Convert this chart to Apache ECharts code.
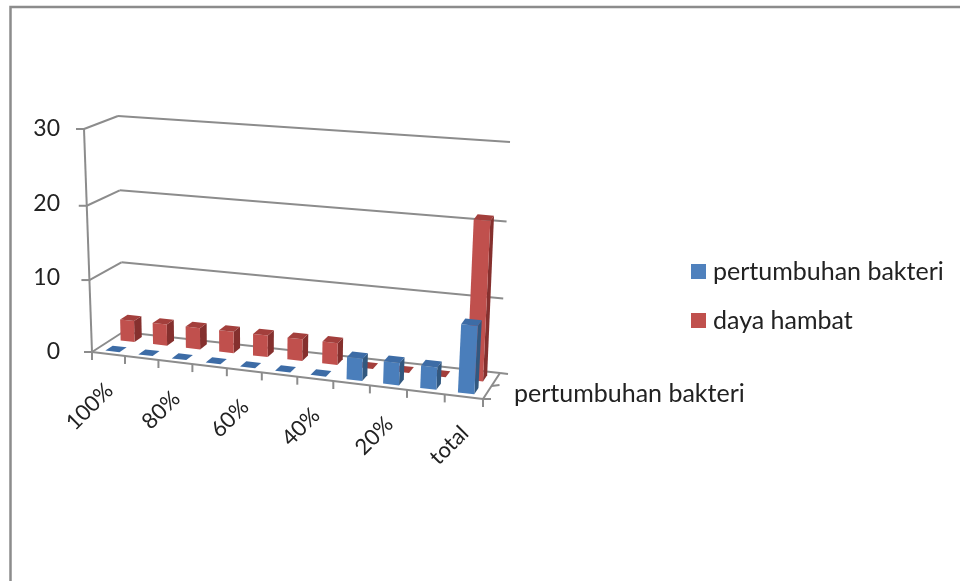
<!DOCTYPE html>
<html lang="en">
<head>
    <meta charset="utf-8">
    <style>
        html,
        body {
            margin: 0;
            width: 100%;
            height: 100%;
            background: #fff;
            overflow: hidden;
        }

        #chart {
            width: 960px;
            height: 581px;
        }
    </style>
</head>
<body>
<div id="chart"></div>
<script src="https://cdn.jsdelivr.net/npm/echarts@6/dist/echarts.min.js"></script>
<script>
    var categories = ['100%', '90%', '80%', '70%', '60%', '50%', '40%', '30%', '20%', '10%', 'total'];
    var pertumbuhanBakteri = [0, 0, 0, 0, 0, 0, 0, 3, 3, 3, 9];
    var dayaHambat = [3, 3, 3, 3, 3, 3, 3, 0, 0, 0, 21];
    var yTicks = [0, 10, 20, 30];

    var FONT = 'Lato';
    var LINE = '#8c8c8c';

    // corners of the 3d box as seen on screen: [bottom, top] for each vertical edge
    var frontLeft = [[92, 352], [84, 129]];
    var frontRight = [[483, 399], [496, 162]];
    var backLeft = [[123, 332], [118, 116]];
    var backRight = [[500, 373], [510, 142]];
    var PERSPECTIVE_X = 1.0855;
    var PERSPECTIVE_Y = 1.05;

    function mix(a, b, t) {
        return [a[0] + (b[0] - a[0]) * t, a[1] + (b[1] - a[1]) * t];
    }

    // u along the categories, v up the value axis, z into the depth, all 0..1
    function project(u, v, z) {
        var t = u / (u + PERSPECTIVE_X * (1 - u));
        var h = v / (v + PERSPECTIVE_Y * (1 - v));
        var bottom = mix(mix(frontLeft[0], frontRight[0], t), mix(backLeft[0], backRight[0], t), z);
        var top = mix(mix(frontLeft[1], frontRight[1], t), mix(backLeft[1], backRight[1], t), z);
        return mix(bottom, top, h);
    }

    function line(a, b) {
        return {
            type: 'polyline',
            shape: {points: [a, b]},
            style: {stroke: LINE, lineWidth: 2, fill: null}
        };
    }

    function face(points, color) {
        return {type: 'polygon', shape: {points: points}, style: {fill: color}};
    }

    // value axis levels: back wall, side wall and tick
    function renderWall(params, api) {
        var cs = params.coordSys;
        var v = (cs.y + cs.height - api.coord([0, api.value(0)])[1]) / cs.height;
        var front = project(0, v, 0);
        var kids = [
            line(project(1, v, 1), project(0, v, 1)),
            line(project(0, v, 1), front),
            line(front, [front[0] - 8, front[1]])
        ];
        return {type: 'group', children: kids};
    }

    // axes on the floor, one tick per category boundary
    function renderTick(params, api) {
        var cs = params.coordSys;
        var u = (api.coord([api.value(0), 0])[0] - api.size([1, 0])[0] / 2 - cs.x) / cs.width;
        var p = project(u, 0, 0);
        var kids = [line(p, [p[0], p[1] + 8])];
        if (params.dataIndex === categories.length - 1) {
            var end = project(1, 0, 0);
            var mid = project(1, 0, 0.5);
            var back = project(1, 0, 1);
            kids.push(line(project(0, 0, 0), end));
            kids.push(line([end[0], end[1] + 8], end));
            kids.push(line(end, back));
            kids.push(line(end, [end[0] + 8, end[1]]));
            kids.push(line(mid, [mid[0] + 8, mid[1] - 1]));
            kids.push(line(back, [back[0] + 8, back[1] + 1]));
            kids.push(line(project(0, 0, 0), project(0, 1, 0)));
            kids.push({
                type: 'text',
                style: {
                    x: end[0] + 31, y: end[1] - 5,
                    text: 'pertumbuhan bakteri',
                    font: '25px ' + FONT, fill: '#222',
                    align: 'left', verticalAlign: 'middle'
                }
            });
        }
        return {type: 'group', children: kids};
    }

    function renderLabel(params, api) {
        var i = api.value(0);
        if (i % 2) {
            return null;
        }
        var cs = params.coordSys;
        var u = (api.coord([i, 0])[0] - cs.x) / cs.width;
        var p = project(u, 0, 0);
        return {
            type: 'text',
            x: p[0] + 1,
            y: p[1] + 33,
            rotation: Math.PI / 4,
            style: {
                text: categories[i],
                font: '22px ' + FONT, fill: '#222',
                align: 'right', verticalAlign: 'middle'
            }
        };
    }

    function barRenderer(z0, z1, front, side, top) {
        return function (params, api) {
            var cs = params.coordSys;
            var c = api.coord([api.value(0), api.value(1)]);
            var w = api.size([1, 0])[0] * 0.215;
            var u0 = (c[0] - w - cs.x) / cs.width;
            var u1 = (c[0] + w - cs.x) / cs.width;
            var v = (cs.y + cs.height - c[1]) / cs.height;
            return {
                type: 'group',
                children: [
                    face([project(u1, 0, z0), project(u1, 0, z1), project(u1, v, z1), project(u1, v, z0)], side),
                    face([project(u0, 0, z0), project(u1, 0, z0), project(u1, v, z0), project(u0, v, z0)], front),
                    face([project(u0, v, z0), project(u1, v, z0), project(u1, v, z1), project(u0, v, z1)], top)
                ]
            };
        };
    }

    function pairs(values) {
        return values.map(function (value, i) {
            return [i, value];
        });
    }

    var chart = echarts.init(document.getElementById('chart'));
    chart.setOption({
        animation: false,
        backgroundColor: '#fff',
        graphic: [{
            type: 'polyline',
            shape: {points: [[10.5, 581], [10.5, 7], [960, 7]]},
            style: {stroke: '#8c8c8c', lineWidth: 2.5, fill: null}
        }],
        legend: {
            orient: 'vertical',
            left: 686,
            top: 254,
            itemWidth: 15,
            itemHeight: 15,
            itemGap: 24,
            icon: 'rect',
            data: ['pertumbuhan bakteri', 'daya hambat'],
            textStyle: {fontFamily: FONT, fontSize: 25, color: '#222', padding: [0, 0, 0, 2]}
        },
        grid: {left: 84, top: 129, width: 399, height: 223},
        xAxis: {
            type: 'category',
            data: categories,
            axisLine: {show: false},
            axisTick: {show: false},
            axisLabel: {show: false}
        },
        yAxis: {
            type: 'value',
            min: 0,
            max: 30,
            interval: 10,
            splitLine: {show: false},
            axisLine: {show: false},
            axisTick: {show: false},
            axisLabel: {margin: 24, fontFamily: FONT, fontSize: 23, color: '#222', padding: [4, 0, 0, 0]}
        },
        series: [
            {
                type: 'custom',
                name: 'walls',
                silent: true,
                clip: false,
                renderItem: renderWall,
                encode: {y: 0},
                data: yTicks
            },
            {
                type: 'custom',
                name: 'ticks',
                silent: true,
                renderItem: renderTick,
                data: categories.map(function (name, i) {
                    return i;
                }),
                encode: {x: 0}
            },
            {
                type: 'custom',
                name: 'labels',
                silent: true,
                renderItem: renderLabel,
                data: categories.map(function (name, i) {
                    return i;
                }),
                encode: {x: 0}
            },
            {
                type: 'custom',
                name: 'daya hambat',
                silent: true,
                itemStyle: {color: '#c0504d'},
                renderItem: barRenderer(0.63, 0.87, '#c0504d', '#85302e', '#a33f3c'),
                encode: {x: 0, y: 1},
                data: pairs(dayaHambat),
                z: 3
            },
            {
                type: 'custom',
                name: 'pertumbuhan bakteri',
                silent: true,
                itemStyle: {color: '#4f81bd'},
                renderItem: barRenderer(0.13, 0.37, '#4a7ebb', '#32587f', '#3d6ca6'),
                encode: {x: 0, y: 1},
                data: pairs(pertumbuhanBakteri),
                z: 4
            }
        ]
    });
</script>
</body>
</html>
